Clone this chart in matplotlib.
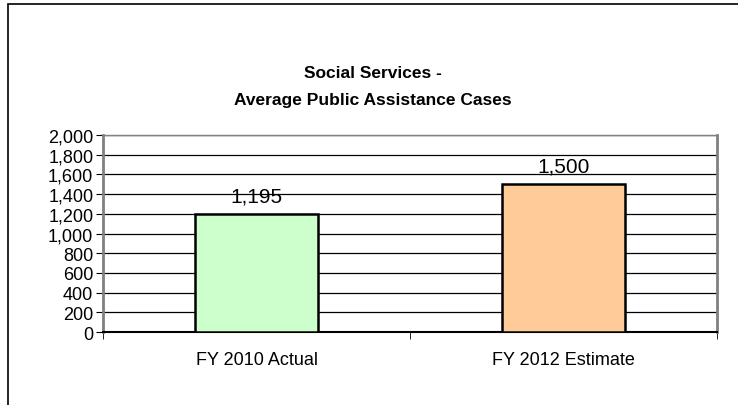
import matplotlib.pyplot as plt
from matplotlib.patches import Rectangle

categories = ["FY 2010 Actual", "FY 2012 Estimate"]
cases = [1195, 1500]
bar_colors = ["#ccffcc", "#ffcc99"]
yticks = [0, 200, 400, 600, 800, 1000, 1200, 1400, 1600, 1800, 2000]

plt.rcParams['font.family'] = ['Liberation Sans', 'DejaVu Sans']

W, H = 738, 406
fig = plt.figure(figsize=(W / 100, H / 100), dpi=100)

# outer chart border (left + top visible, rest cropped)
fig.add_artist(Rectangle((8 / W, -0.1), 1.2, 1 - 5 / H + 0.1, transform=fig.transFigure,
                         fill=False, edgecolor="black", linewidth=1.2))

ax = fig.add_axes([103 / W, 1 - 333 / H, (717 - 103) / W, (333 - 136) / H])

x = list(range(len(categories)))
ax.bar(x, cases, width=0.4, color=bar_colors, edgecolor="black", linewidth=1.8, zorder=3)

for xi, v in zip(x, cases):
    ax.annotate(f"{v:,}", (xi, v), xytext=(0, 6), textcoords="offset points",
                ha="center", va="bottom", fontsize=15, zorder=4)

ax.set_xlim(-0.5, len(categories) - 0.5)
ax.set_ylim(0, 2000)
ax.set_yticks(yticks)
ax.set_yticklabels([f"{t:,}" for t in yticks], fontsize=13)
ax.yaxis.grid(True, color="black", linewidth=0.9, zorder=0)

ax.set_xticks(x)
ax.set_xticklabels(categories, fontsize=13)
ax.tick_params(axis="x", length=0, pad=14)
ax.set_xticks([-0.5, 0.5, 1.5], minor=True)
ax.tick_params(axis="x", which="minor", length=5, color="black")
ax.tick_params(axis="y", length=5, color="black", pad=2)

ax.spines["left"].set_color("#808080")
ax.spines["left"].set_linewidth(2)
ax.spines["bottom"].set_color("black")
ax.spines["bottom"].set_linewidth(1.5)
ax.spines["right"].set_color("#808080")
ax.spines["right"].set_linewidth(2)
ax.spines["top"].set_color("#808080")
ax.spines["top"].set_linewidth(1)

fig.text(0.5 + 4 / W, 1 - 74 / H, "Social Services -", ha="center", va="center",
         fontsize=12.5, fontweight="bold")
fig.text(0.5 + 4 / W, 1 - 100 / H, "Average Public Assistance Cases", ha="center", va="center",
         fontsize=12.5, fontweight="bold")

fig.savefig("out.png", dpi=100)
